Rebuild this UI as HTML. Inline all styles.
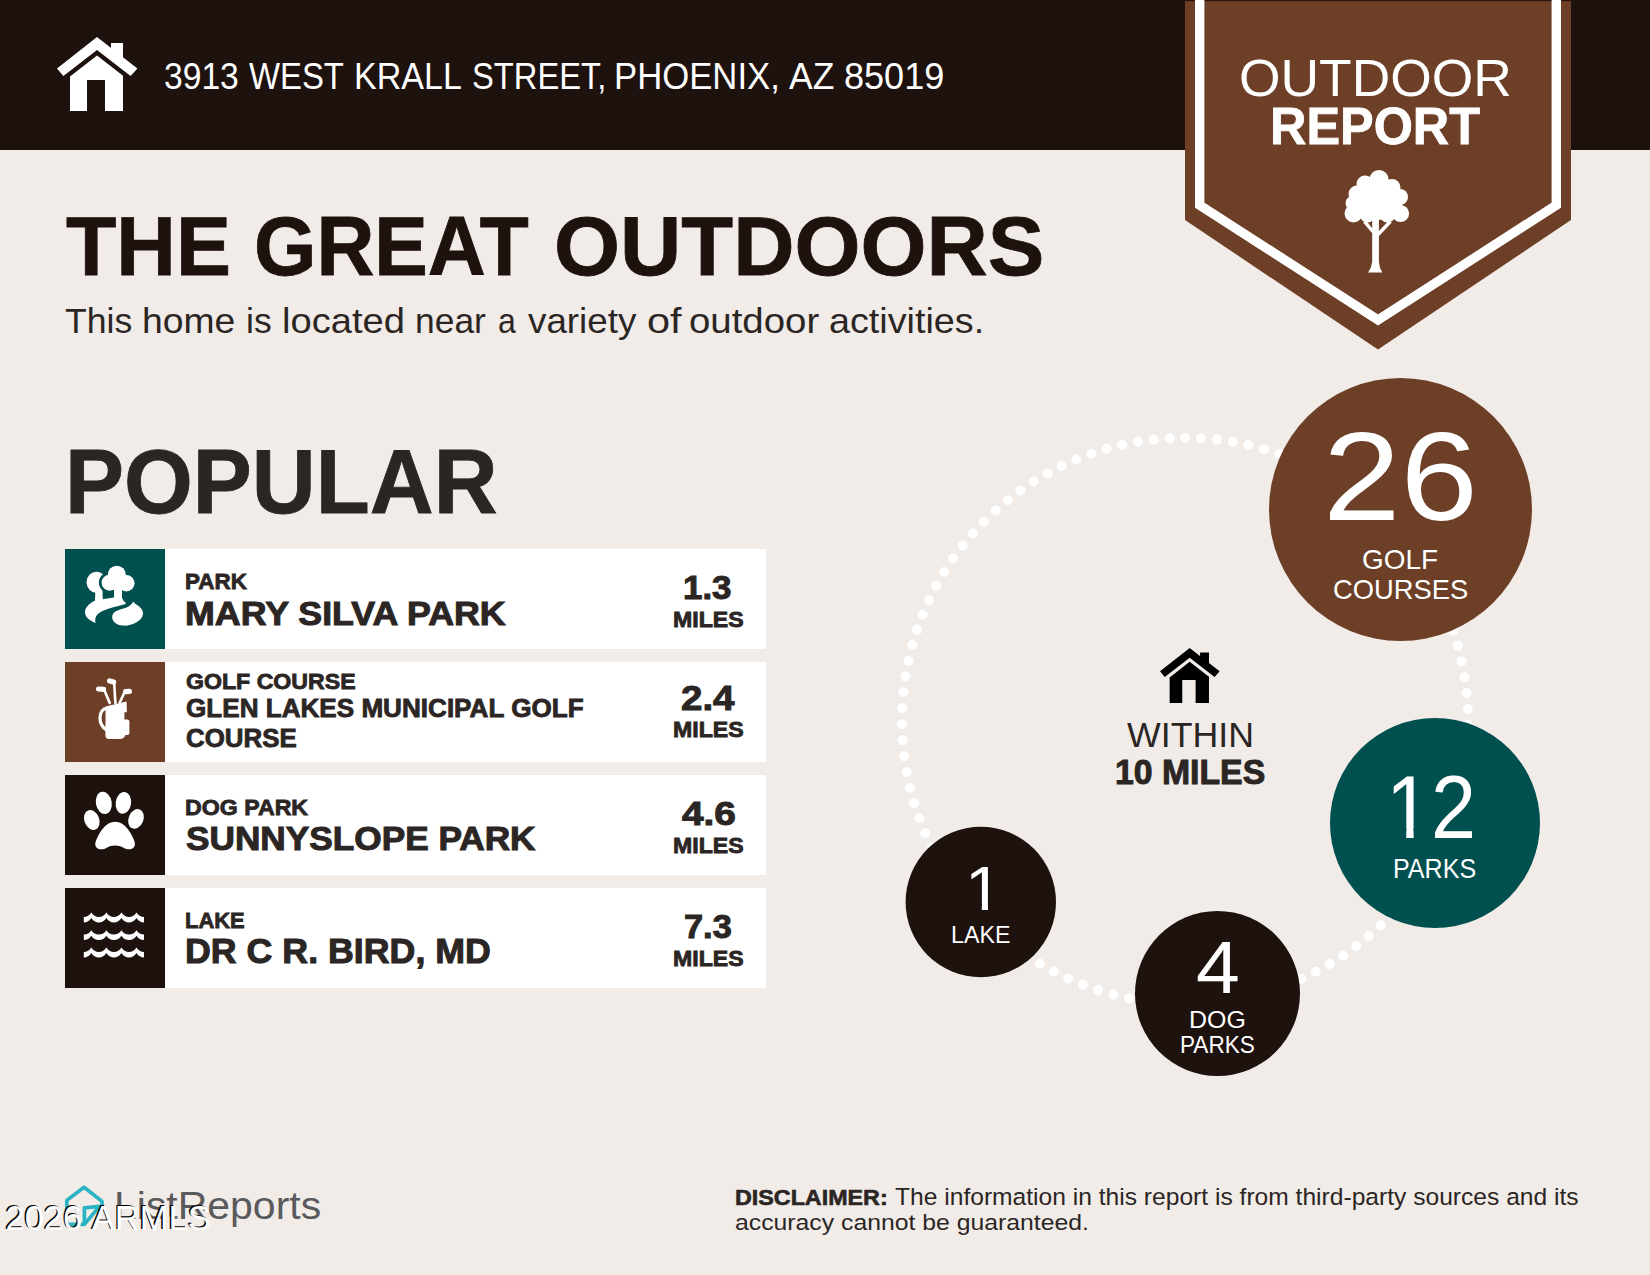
<!DOCTYPE html>
<html lang="en">
<head>
<meta charset="utf-8">
<title>Outdoor Report - 3913 West Krall Street</title>
<style>
html,body{margin:0;padding:0}
body{width:1650px;height:1275px;position:relative;overflow:hidden;background:#f2ece9;font-family:"Liberation Sans",Arial,sans-serif}
.hdr{position:absolute;left:0;top:0;width:1650px;height:150px;background:#1e120e}
.t{position:absolute;white-space:nowrap;transform-origin:0 0;display:block}
.row{position:absolute;left:65px;width:700.5px;height:100px;background:#fff}
.ic{position:absolute;left:0;top:0;width:100px;height:100px}
svg{position:absolute;left:0;top:0;overflow:visible}
.wm{position:absolute;left:5.5px;top:1197.6px;font-size:34.5px;line-height:40px;color:#fff;white-space:nowrap;font-kerning:none;text-shadow:-1.4px -0.6px 0 #000;transform:scaleY(1.043);transform-origin:0 31.95px}
</style>
</head>
<body>
<div class="hdr"></div>

<!-- list rows -->
<div class="row" style="top:549px"><div class="ic" style="background:#00504f"></div></div>
<div class="row" style="top:662px"><div class="ic" style="background:#6c3f26"></div></div>
<div class="row" style="top:775px"><div class="ic" style="background:#1e120e"></div></div>
<div class="row" style="top:888px"><div class="ic" style="background:#1e120e"></div></div>

<svg width="1650" height="1275" viewBox="0 0 1650 1275">
  <!-- dotted ring -->
  <circle cx="1185" cy="720.8" r="283" fill="none" stroke="#fff" stroke-width="10" stroke-linecap="round" stroke-dasharray="0 16.0191" transform="rotate(-90 1185 720.8)"/>
  <!-- stat circles -->
  <circle cx="1400.5" cy="509.5" r="131.5" fill="#6c3f26"/>
  <circle cx="1435" cy="823" r="105" fill="#00504f"/>
  <circle cx="980.8" cy="902" r="75.2" fill="#1e120e"/>
  <circle cx="1217.5" cy="993.5" r="82.5" fill="#1e120e"/>

  <!-- badge -->
  <polygon points="1185,0 1571,0 1571,220 1378,349.6 1185,220" fill="#6c3f26"/>
  <rect x="1185" y="0" width="386" height="1.2" fill="#2b130a"/>
  <polyline points="1199.7,-6 1199.7,205.2 1378,320 1556.3,205.2 1556.3,-6" fill="none" stroke="#fff" stroke-width="9.4" stroke-linejoin="miter"/>
  <!-- badge tree -->
  <g fill="#fff">
    <circle cx="1379" cy="179.5" r="9.6"/><circle cx="1365" cy="184" r="8.5"/><circle cx="1392" cy="187.5" r="8.5"/>
    <circle cx="1357" cy="194" r="8.5"/><circle cx="1400" cy="197" r="8"/><circle cx="1352.5" cy="203" r="7"/>
    <circle cx="1353.5" cy="213.5" r="9"/><circle cx="1400.5" cy="213.5" r="8.6"/><circle cx="1367.5" cy="215" r="7.6"/><circle cx="1387.5" cy="215" r="7.6"/>
    <circle cx="1377" cy="200" r="20"/><circle cx="1366" cy="205" r="12"/><circle cx="1390" cy="205" r="12"/>
    <path d="M1372.2,215 L1378.9,215 L1378.9,262 Q1379.3,268 1382.3,272.5 L1368,272.5 Q1371.6,268 1372.2,262 Z"/>
    <path d="M1363,222.5 L1366.2,220.5 L1373.5,230 L1372.5,233.6 Z"/>
    <path d="M1391.8,222.5 L1388.8,220.5 L1378,232 L1378.6,236.5 Z"/>
  </g>

  <!-- header house -->
  <g id="house" fill="#fff">
    <polygon points="97,37 137.4,68.5 130.6,76 97,50 63.4,76 57,68.5"/>
    <polygon points="111,43 123,43 123,61 111,52"/>
    <polygon points="97,55.6 123,75.8 123,111 105,111 105,80 87,80 87,111 70,111 70,76.6"/>
  </g>
  <!-- centre house -->
  <g fill="#000" transform="translate(1160 648) scale(0.742) translate(-57 -37)">
    <polygon points="97,37 137.4,68.5 130.6,76 97,50 63.4,76 57,68.5"/>
    <polygon points="111,43 123,43 123,61 111,52"/>
    <polygon points="97,55.6 123,75.8 123,111 105,111 105,80 87,80 87,111 70,111 70,76.6"/>
  </g>

  <!-- park icon -->
  <g transform="translate(65 549)">
    <g fill="#fff">
      <ellipse cx="31.5" cy="33.3" rx="10" ry="10.6"/>
      <path d="M30.2,42 L37.6,42 L37.6,52 L30.2,52 Z"/>
    </g>
    <g fill="#00504f"><circle cx="51.8" cy="25.5" r="11.6"/><circle cx="44.5" cy="33.5" r="10.6"/><circle cx="53" cy="36" r="9"/></g>
    <g fill="#fff">
      <circle cx="51.8" cy="25.7" r="9"/><circle cx="44.6" cy="33.7" r="8"/><circle cx="61.4" cy="34.2" r="8.2"/><circle cx="53" cy="35" r="7.6"/>
      <path d="M49,40 L57,40 L57,49 Q58,52 60.6,53.4 L60.6,55 C52,57.5 44,59 37.5,62 C31,65 29.5,69 30.6,74 C24,71.5 19.5,67.5 20,62.5 C20.5,57 26,53.5 30.2,51.5 L30.2,48 L37.6,48 L37.6,50.3 L49,48.5 Z"/>
      <path d="M68.2,52.5 C71,56.5 78,58 78,64.5 C78,72 66,77.2 58,76.6 C50,76 46,71 47.5,66 C49,60.5 59,60.5 63.5,57.5 C66,56 67.5,54.3 68.2,52.5 Z"/>
    </g>
  </g>

  <!-- golf icon -->
  <g transform="translate(65 662)">
    <g fill="none" stroke="#fff" stroke-linecap="round">
      <path d="M44.7,41 L39.2,27.8" stroke-width="2.6"/><path d="M33.6,27 L38.6,27.4" stroke-width="5.2"/>
      <path d="M50.4,41 L49.2,21.4" stroke-width="2.6"/><path d="M44.6,19 L48.6,20" stroke-width="5.2"/>
      <path d="M54.6,41 L59.6,30" stroke-width="2.6"/><path d="M60.6,29.6 L64.4,29.4" stroke-width="5.2"/>
      <path d="M42,46 C33,48 32.5,62 41.5,68" stroke-width="3.2"/>
    </g>
    <path fill="#fff" d="M40.6,44.6 L61.6,39.4 L61.8,50.2 L59.4,50.2 L59.4,57.6 L62.4,57.6 Q64.4,57.6 64.4,59.6 L64.4,71 Q64.4,73 62.4,73 L60.4,73 Q59,77 55,77 L44,77 Q40.4,77 40.4,73 Z"/>
  </g>

  <!-- paw icon -->
  <g transform="translate(65 775)" fill="#fff">
    <ellipse cx="38.8" cy="27.9" rx="7.9" ry="11.2" transform="rotate(-10 38.8 27.9)"/>
    <ellipse cx="58.4" cy="27.9" rx="7.7" ry="11" transform="rotate(8 58.4 27.9)"/>
    <ellipse cx="26.8" cy="45" rx="7.4" ry="10.2" transform="rotate(-22 26.8 45)"/>
    <ellipse cx="71" cy="43.9" rx="7.4" ry="10.2" transform="rotate(22 71 43.9)"/>
    <path d="M50.2,46.7 C60,46.7 65.5,57 69,65 C72.5,73.5 65,76.5 58.5,72.8 C53.5,69.8 46.5,69.8 41.8,72.8 C35.5,76.5 27.5,73.5 31.2,65 C34.8,57 40.4,46.7 50.2,46.7 Z"/>
  </g>

  <!-- lake icon -->
  <g transform="translate(65 888)" fill="#fff">
    <path d="M18.80,29.00 Q23.50,29.00 26.33,24.60 Q29.15,29.00 33.85,29.00 Q38.55,29.00 41.38,24.60 Q44.20,29.00 48.90,29.00 Q53.60,29.00 56.43,24.60 Q59.25,29.00 63.95,29.00 Q68.65,29.00 71.48,24.60 Q74.30,29.00 79.00,29.00 L79.00,34.50 Q74.30,34.50 71.48,30.10 Q68.65,34.50 63.95,34.50 Q59.25,34.50 56.43,30.10 Q53.60,34.50 48.90,34.50 Q44.20,34.50 41.38,30.10 Q38.55,34.50 33.85,34.50 Q29.15,34.50 26.33,30.10 Q23.50,34.50 18.80,34.50 Z"/>
    <path d="M18.80,29.00 Q23.50,29.00 26.33,24.60 Q29.15,29.00 33.85,29.00 Q38.55,29.00 41.38,24.60 Q44.20,29.00 48.90,29.00 Q53.60,29.00 56.43,24.60 Q59.25,29.00 63.95,29.00 Q68.65,29.00 71.48,24.60 Q74.30,29.00 79.00,29.00 L79.00,34.50 Q74.30,34.50 71.48,30.10 Q68.65,34.50 63.95,34.50 Q59.25,34.50 56.43,30.10 Q53.60,34.50 48.90,34.50 Q44.20,34.50 41.38,30.10 Q38.55,34.50 33.85,34.50 Q29.15,34.50 26.33,30.10 Q23.50,34.50 18.80,34.50 Z" transform="translate(0 17.6)"/>
    <path d="M18.80,29.00 Q23.50,29.00 26.33,24.60 Q29.15,29.00 33.85,29.00 Q38.55,29.00 41.38,24.60 Q44.20,29.00 48.90,29.00 Q53.60,29.00 56.43,24.60 Q59.25,29.00 63.95,29.00 Q68.65,29.00 71.48,24.60 Q74.30,29.00 79.00,29.00 L79.00,34.50 Q74.30,34.50 71.48,30.10 Q68.65,34.50 63.95,34.50 Q59.25,34.50 56.43,30.10 Q53.60,34.50 48.90,34.50 Q44.20,34.50 41.38,30.10 Q38.55,34.50 33.85,34.50 Q29.15,34.50 26.33,30.10 Q23.50,34.50 18.80,34.50 Z" transform="translate(0 35)"/>
  </g>

  <!-- ListReports mark -->
  <g fill="none" stroke="#2ab4c3" stroke-width="3.7" stroke-linejoin="round" stroke-linecap="round">
    <path d="M83,1224.4 L66.8,1224.4 L66.8,1200.4 L84.1,1187.2 L102,1201.4 L102,1204.6"/>
    <path d="M84.4,1207.8 L99.4,1206.4 L84.4,1224.4 Z"/>
  </g>
</svg>

<header aria-label="Property address">
<span class="t" style="left:163.65px;top:59.15px;font-size:36.01px;line-height:36.01px;font-weight:400;color:#fff;transform:scaleX(0.9344)">3913</span>
<span class="t" style="left:248.84px;top:59.15px;font-size:36.01px;line-height:36.01px;font-weight:400;color:#fff;transform:scaleX(0.9128)">WEST</span>
<span class="t" style="left:354.28px;top:59.15px;font-size:36.01px;line-height:36.01px;font-weight:400;color:#fff;transform:scaleX(0.9455)">KRALL</span>
<span class="t" style="left:471.53px;top:59.15px;font-size:36.01px;line-height:36.01px;font-weight:400;color:#fff;transform:scaleX(0.9083)">STREET,</span>
<span class="t" style="left:614.22px;top:59.15px;font-size:36.01px;line-height:36.01px;font-weight:400;color:#fff;transform:scaleX(0.9639)">PHOENIX,</span>
<span class="t" style="left:788.82px;top:59.15px;font-size:36.01px;line-height:36.01px;font-weight:400;color:#fff;transform:scaleX(0.9855)">AZ</span>
<span class="t" style="left:844.38px;top:59.15px;font-size:36.01px;line-height:36.01px;font-weight:400;color:#fff;transform:scaleX(1.0015)">85019</span>
</header>
<section aria-label="Headline">
<span class="t" style="left:66.28px;top:203.65px;font-size:84.11px;line-height:84.11px;font-weight:700;color:#1e120e;-webkit-text-stroke:0.80px #1e120e;transform:scaleX(0.9804)">THE</span>
<span class="t" style="left:253.89px;top:203.65px;font-size:84.11px;line-height:84.11px;font-weight:700;color:#1e120e;-webkit-text-stroke:0.80px #1e120e;transform:scaleX(0.9539)">GREAT</span>
<span class="t" style="left:553.70px;top:203.65px;font-size:84.11px;line-height:84.11px;font-weight:700;color:#1e120e;-webkit-text-stroke:0.80px #1e120e;transform:scaleX(1.0091)">OUTDOORS</span>
<span class="t" style="left:65.11px;top:304.15px;font-size:35.86px;line-height:35.86px;font-weight:400;color:#2b2624;transform:scaleX(0.9932)">This</span>
<span class="t" style="left:142.39px;top:304.15px;font-size:35.86px;line-height:35.86px;font-weight:400;color:#2b2624;transform:scaleX(1.0406)">home</span>
<span class="t" style="left:245.69px;top:304.15px;font-size:35.86px;line-height:35.86px;font-weight:400;color:#2b2624;transform:scaleX(0.9895)">is</span>
<span class="t" style="left:281.52px;top:304.15px;font-size:35.86px;line-height:35.86px;font-weight:400;color:#2b2624;transform:scaleX(1.0632)">located</span>
<span class="t" style="left:414.70px;top:304.15px;font-size:35.86px;line-height:35.86px;font-weight:400;color:#2b2624;transform:scaleX(0.9876)">near</span>
<span class="t" style="left:498.15px;top:304.15px;font-size:35.86px;line-height:35.86px;font-weight:400;color:#2b2624;transform:scaleX(0.8967)">a</span>
<span class="t" style="left:527.82px;top:304.15px;font-size:35.86px;line-height:35.86px;font-weight:400;color:#2b2624;transform:scaleX(1.0261)">variety</span>
<span class="t" style="left:647.34px;top:304.15px;font-size:35.86px;line-height:35.86px;font-weight:400;color:#2b2624;transform:scaleX(1.1575)">of</span>
<span class="t" style="left:689.46px;top:304.15px;font-size:35.86px;line-height:35.86px;font-weight:400;color:#2b2624;transform:scaleX(1.0703)">outdoor</span>
<span class="t" style="left:829.30px;top:304.15px;font-size:35.86px;line-height:35.86px;font-weight:400;color:#2b2624;transform:scaleX(1.0523)">activities.</span>
<span class="t" style="left:65.05px;top:436.65px;font-size:90.23px;line-height:90.23px;font-weight:700;color:#2b2624;-webkit-text-stroke:0.80px #2b2624;transform:scaleX(0.9808)">POPULAR</span>
</section>
<section aria-label="Report badge">
<span class="t" style="left:1238.60px;top:51.75px;font-size:52.62px;line-height:52.62px;font-weight:400;color:#fff;transform:scaleX(1.0145)">OUTDOOR</span>
<span class="t" style="left:1270.12px;top:101.35px;font-size:51.31px;line-height:51.31px;font-weight:700;color:#fff;-webkit-text-stroke:0.80px #fff;transform:scaleX(0.9825)">REPORT</span>
</section>
<section aria-label="Popular places">
<span class="t" style="left:185.34px;top:571.35px;font-size:21.57px;line-height:21.57px;font-weight:700;color:#2b2624;-webkit-text-stroke:0.80px #2b2624;transform:scaleX(1.0392)">PARK</span>
<span class="t" style="left:185.17px;top:596.65px;font-size:33.53px;line-height:33.53px;font-weight:700;color:#2b2624;-webkit-text-stroke:1.00px #2b2624;transform:scaleX(1.0675)">MARY SILVA PARK</span>
<span class="t" style="left:185.87px;top:670.75px;font-size:22.16px;line-height:22.16px;font-weight:700;color:#2b2624;-webkit-text-stroke:0.80px #2b2624;transform:scaleX(1.0438)">GOLF COURSE</span>
<span class="t" style="left:185.76px;top:695.75px;font-size:25.07px;line-height:25.07px;font-weight:700;color:#2b2624;-webkit-text-stroke:0.80px #2b2624;transform:scaleX(1.0409)">GLEN LAKES MUNICIPAL GOLF</span>
<span class="t" style="left:185.76px;top:725.75px;font-size:25.07px;line-height:25.07px;font-weight:700;color:#2b2624;-webkit-text-stroke:0.80px #2b2624;transform:scaleX(1.0332)">COURSE</span>
<span class="t" style="left:185.29px;top:797.35px;font-size:21.57px;line-height:21.57px;font-weight:700;color:#2b2624;-webkit-text-stroke:0.80px #2b2624;transform:scaleX(1.0739)">DOG PARK</span>
<span class="t" style="left:185.84px;top:821.65px;font-size:33.53px;line-height:33.53px;font-weight:700;color:#2b2624;-webkit-text-stroke:1.00px #2b2624;transform:scaleX(1.0506)">SUNNYSLOPE PARK</span>
<span class="t" style="left:185.38px;top:910.35px;font-size:21.57px;line-height:21.57px;font-weight:700;color:#2b2624;-webkit-text-stroke:0.80px #2b2624;transform:scaleX(1.0155)">LAKE</span>
<span class="t" style="left:185.18px;top:934.25px;font-size:34.40px;line-height:34.40px;font-weight:700;color:#2b2624;-webkit-text-stroke:1.00px #2b2624;transform:scaleX(1.0395)">DR C R. BIRD, MD</span>
<span class="t" style="left:683.23px;top:571.25px;font-size:33.96px;line-height:33.96px;font-weight:700;color:#2b2624;-webkit-text-stroke:1.00px #2b2624;transform:scaleX(1.0273)">1.3</span>
<span class="t" style="left:672.90px;top:609.35px;font-size:21.57px;line-height:21.57px;font-weight:700;color:#2b2624;-webkit-text-stroke:0.80px #2b2624;transform:scaleX(1.0716)">MILES</span>
<span class="t" style="left:681.15px;top:680.65px;font-size:34.53px;line-height:34.53px;font-weight:700;color:#2b2624;-webkit-text-stroke:1.00px #2b2624;transform:scaleX(1.1154)">2.4</span>
<span class="t" style="left:672.90px;top:719.35px;font-size:21.57px;line-height:21.57px;font-weight:700;color:#2b2624;-webkit-text-stroke:0.80px #2b2624;transform:scaleX(1.0716)">MILES</span>
<span class="t" style="left:681.92px;top:797.25px;font-size:33.96px;line-height:33.96px;font-weight:700;color:#2b2624;-webkit-text-stroke:1.00px #2b2624;transform:scaleX(1.1428)">4.6</span>
<span class="t" style="left:672.90px;top:835.35px;font-size:21.57px;line-height:21.57px;font-weight:700;color:#2b2624;-webkit-text-stroke:0.80px #2b2624;transform:scaleX(1.0716)">MILES</span>
<span class="t" style="left:683.95px;top:910.25px;font-size:33.96px;line-height:33.96px;font-weight:700;color:#2b2624;-webkit-text-stroke:1.00px #2b2624;transform:scaleX(1.0116)">7.3</span>
<span class="t" style="left:672.90px;top:948.35px;font-size:21.57px;line-height:21.57px;font-weight:700;color:#2b2624;-webkit-text-stroke:0.80px #2b2624;transform:scaleX(1.0716)">MILES</span>
</section>
<section aria-label="Within 10 miles">
<span class="t" style="left:1323.04px;top:413.15px;font-size:126.62px;line-height:126.62px;font-weight:400;color:#fff;transform:scaleX(1.0995)">26</span>
<span class="t" style="left:1362.20px;top:546.15px;font-size:27.70px;line-height:27.70px;font-weight:400;color:#fff;transform:scaleX(1.0077)">GOLF</span>
<span class="t" style="left:1333.03px;top:575.15px;font-size:28.28px;line-height:28.28px;font-weight:400;color:#fff;transform:scaleX(0.9668)">COURSES</span>
<span class="t" style="left:1385.81px;top:763.15px;font-size:89.21px;line-height:89.21px;font-weight:400;color:#fff;clip-path:polygon(0 0,100% 0,100% 100%,48% 100%,48% 73%,30.65% 73%,30.65% 100%,22.5% 100%,22.5% 73%,0 73%);transform:scaleX(0.9072)">12</span>
<span class="t" style="left:1392.99px;top:856.15px;font-size:26.82px;line-height:26.82px;font-weight:400;color:#fff;transform:scaleX(0.9350)">PARKS</span>
<span class="t" style="left:964.92px;top:857.15px;font-size:63.74px;line-height:63.74px;font-weight:400;color:#fff;clip-path:polygon(0 0,100% 0,100% 73%,61.3% 73%,61.3% 100%,45% 100%,45% 73%,0 73%);transform:scaleX(1.0562)">1</span>
<span class="t" style="left:951.14px;top:923.15px;font-size:24.20px;line-height:24.20px;font-weight:400;color:#fff;transform:scaleX(0.9606)">LAKE</span>
<span class="t" style="left:1195.63px;top:930.15px;font-size:74.82px;line-height:74.82px;font-weight:400;color:#fff;transform:scaleX(1.0532)">4</span>
<span class="t" style="left:1189.00px;top:1009.15px;font-size:23.32px;line-height:23.32px;font-weight:400;color:#fff;transform:scaleX(1.0694)">DOG</span>
<span class="t" style="left:1179.79px;top:1034.15px;font-size:23.32px;line-height:23.32px;font-weight:400;color:#fff;transform:scaleX(0.9677)">PARKS</span>
<span class="t" style="left:1127.42px;top:717.75px;font-size:35.86px;line-height:35.86px;font-weight:400;color:#2b2624;transform:scaleX(0.9965)">WITHIN</span>
<span class="t" style="left:1114.70px;top:754.25px;font-size:34.99px;line-height:34.99px;font-weight:700;color:#2b2624;-webkit-text-stroke:1.00px #2b2624;transform:scaleX(0.9655)">10 MILES</span>
</section>
<footer aria-label="Footer">
<span class="t" style="left:113.92px;top:1186.75px;font-size:38.48px;line-height:38.48px;font-weight:400;color:#5a5a5c;transform:scaleX(1.0646)">ListReports</span>
<span class="t" style="left:735.19px;top:1186.85px;font-size:22.45px;line-height:22.45px;font-weight:700;color:#2b2624;-webkit-text-stroke:0.60px #2b2624;transform:scaleX(1.0379)">DISCLAIMER:</span>
<span class="t" style="left:894.98px;top:1186.15px;font-size:23.32px;line-height:23.32px;font-weight:400;color:#2b2624;transform:scaleX(1.0553)">The information in this report is from third-party sources and its</span>
<span class="t" style="left:735.29px;top:1212.15px;font-size:22.35px;line-height:22.35px;font-weight:400;color:#2b2624;transform:scaleX(1.1087)">accuracy cannot be guaranteed.</span>
</footer>

<div class="wm">2026 ARMLS</div>
</body>
</html>
